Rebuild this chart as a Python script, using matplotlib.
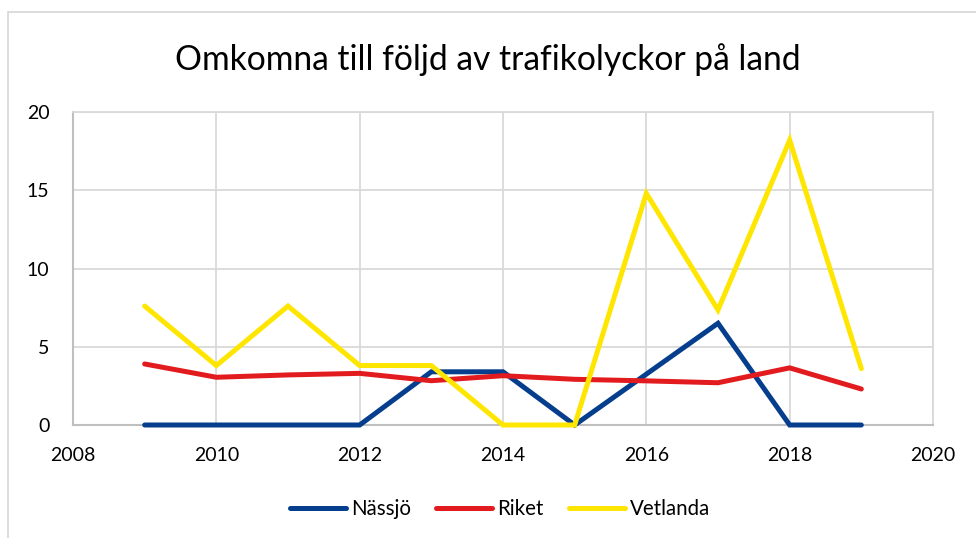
import matplotlib
matplotlib.use("Agg")
import matplotlib.pyplot as plt
from matplotlib.patches import Rectangle

plt.rcParams['font.family'] = ['Lato', 'DejaVu Sans']

years = [2009, 2010, 2011, 2012, 2013, 2014, 2015, 2016, 2017, 2018, 2019]
nassjo = [0, 0, 0, 0, 3.4, 3.4, 0, 3.25, 6.5, 0, 0]
riket = [3.9, 3.05, 3.2, 3.3, 2.83, 3.15, 2.92, 2.82, 2.7, 3.65, 2.3]
vetlanda = [7.6, 3.8, 7.6, 3.8, 3.8, 0, 0, 14.8, 7.35, 18.2, 3.6]
series_names = ["Nässjö", "Riket", "Vetlanda"]
colors = ["#063E8E", "#E21B1E", "#FFE600"]
title = "Omkomna till följd av trafikolyckor på land"
xticks = [2008, 2010, 2012, 2014, 2016, 2018, 2020]
yticks = [0, 5, 10, 15, 20]

fig = plt.figure(figsize=(9.76, 5.38), dpi=100)
ax = fig.add_axes([73/976, 1-425/538, (933-73)/976, (425-112)/538])

for vals, name, c in zip([nassjo, riket, vetlanda], series_names, colors):
    ax.plot(years, vals, color=c, lw=3.6, label=name, solid_capstyle='round',
            solid_joinstyle='miter', clip_on=False, zorder=3)

ax.set_xlim(2008, 2020)
ax.set_ylim(0, 20)
ax.set_xticks(xticks)
ax.set_yticks(yticks)
ax.grid(True, color="#D9D9D9", lw=1.3)
ax.set_axisbelow(True)
for s in ['top', 'right']:
    ax.spines[s].set_color("#D9D9D9")
    ax.spines[s].set_linewidth(1.3)
for s in ['left', 'bottom']:
    ax.spines[s].set_color("#BFBFBF")
    ax.spines[s].set_linewidth(1.5)
ax.tick_params(length=0, labelsize=14, colors="black")
ax.tick_params(axis='x', pad=16)
ax.tick_params(axis='y', pad=17)

fig.text(0.5, 1-60/538, title, ha='center', va='center', fontsize=24.2)

leg = fig.legend(loc='center', bbox_to_anchor=(500/976, 1-509/538), ncol=3, frameon=False,
                 fontsize=14.8, handlelength=2.7, columnspacing=1.25, handletextpad=0.25)

fig.patches.append(Rectangle((8/976, -0.1), 1.1, 1-12/538+0.1, transform=fig.transFigure,
                             fill=False, edgecolor="#D9D9D9", lw=1.3))

fig.savefig("out.png", dpi=100)
